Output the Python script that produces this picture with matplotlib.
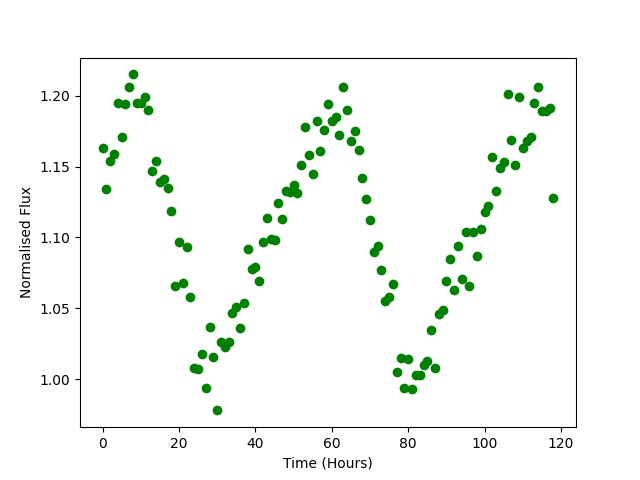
import numpy as np
import matplotlib
matplotlib.use("Agg")
import matplotlib.pyplot as plt

# Flux measured once per hour
flux = [1.163, 1.134, 1.154, 1.159, 1.195, 1.171, 1.194, 1.206, 1.215, 1.195,
        1.195, 1.199, 1.190, 1.147, 1.154, 1.139, 1.141, 1.135, 1.119, 1.066,
        1.097, 1.068, 1.093, 1.058, 1.008, 1.007, 1.018, 0.994, 1.037, 1.016,
        0.978, 1.026, 1.023, 1.026, 1.047, 1.051, 1.036, 1.054, 1.092, 1.078,
        1.079, 1.069, 1.097, 1.114, 1.099, 1.098, 1.124, 1.113, 1.133, 1.132,
        1.137, 1.131, 1.151, 1.178, 1.158, 1.145, 1.182, 1.161, 1.176, 1.194,
        1.182, 1.185, 1.172, 1.206, 1.190, 1.168, 1.175, 1.162, 1.142, 1.127,
        1.112, 1.090, 1.094, 1.077, 1.055, 1.058, 1.067, 1.005, 1.015, 0.994,
        1.014, 0.993, 1.003, 1.003, 1.010, 1.013, 1.035, 1.008, 1.046, 1.049,
        1.069, 1.085, 1.063, 1.094, 1.071, 1.104, 1.066, 1.104, 1.087, 1.106,
        1.118, 1.122, 1.157, 1.133, 1.149, 1.153, 1.201, 1.169, 1.151, 1.199,
        1.163, 1.168, 1.171, 1.195, 1.206, 1.189, 1.189, 1.191, 1.128]
hours = np.arange(len(flux))

plt.figure(figsize=(6.4, 4.8), dpi=100)
plt.scatter(hours, flux, color='green')
plt.xlabel('Time (Hours)')
plt.ylabel('Normalised Flux')
plt.savefig('out.png')
